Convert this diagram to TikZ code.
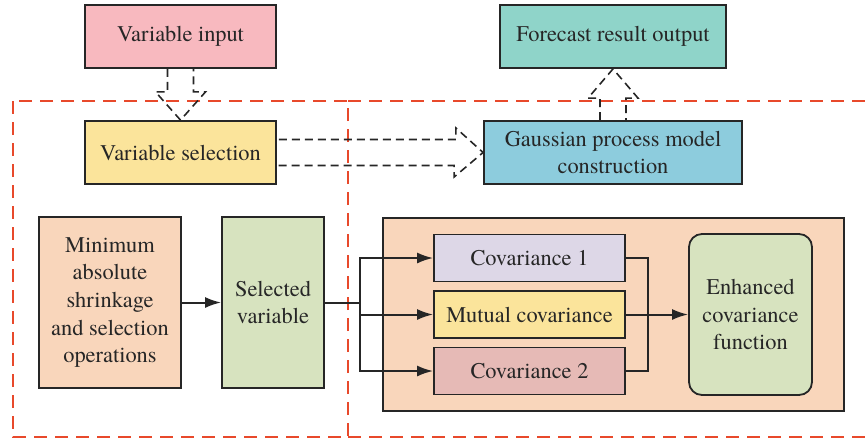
\documentclass[tikz,border=0pt]{standalone}
\usepackage{fontspec}
\setmainfont{texgyretermes}[Extension=.otf,UprightFont=*-regular,BoldFont=*-bold,ItalicFont=*-italic,BoldItalicFont=*-bolditalic]
\usetikzlibrary{arrows.meta,calc}

\definecolor{inputpink}{HTML}{F8B9BF}
\definecolor{selyellow}{HTML}{FBE49B}
\definecolor{outteal}{HTML}{8FD4C9}
\definecolor{gpblue}{HTML}{8DCCDD}
\definecolor{lassoorange}{HTML}{F9D6BB}
\definecolor{selgreen}{HTML}{D7E3BF}
\definecolor{covlilac}{HTML}{DDD7E7}
\definecolor{covrose}{HTML}{E6BAB6}
\definecolor{regionred}{HTML}{E8492B}

\begin{document}
\begin{tikzpicture}[x=0.5pt,y=-0.5pt,
                    node distance=58pt,
                    font=\rmfamily\fontsize{11.2}{13.8}\selectfont,
                    box/.style={rectangle,draw=black!85,line width=0.9pt,
                                text=black!85,align=center,inner sep=0pt},
                    hollow arrow/.style={draw=black!85,line width=0.8pt,
                                dash pattern=on 4pt off 2.5pt},
                    link/.style={draw=black!85,line width=1pt},
                    tip/.style={-{Latex[length=8pt,width=5.5pt]}},
                    region/.style={draw=regionred,line width=1pt,
                                dash pattern=on 6.5pt off 4pt}]

  \useasboundingbox (0,0) rectangle (866,440);

  % dashed regions
  \draw[region] (13,101) rectangle (348,437);
  \draw[region] (348,101) -- (880,101)
                (348,437) -- (880,437);

  % top row
  \node[box,fill=inputpink,minimum width=95.5pt,minimum height=31.5pt] (input) at (180.5,36.5) {Variable input};
  \node[box,fill=selyellow,minimum width=95.5pt,minimum height=31.5pt] (selection) [below of=input] {Variable selection};
  \node[box,fill=outteal,minimum width=113pt,minimum height=31.5pt] (output) at (613,36.5) {Forecast result output};
  \node[box,fill=gpblue,minimum width=129pt,minimum height=31.5pt] (gp) [below of=output] {Gaussian process model\\construction};

  % lower left
  \node[box,fill=lassoorange,minimum width=71pt,minimum height=85.5pt] (lasso) at (110,302.5) {Minimum\\absolute\\shrinkage\\and selection\\operations};
  \node[box,fill=selgreen,minimum width=51pt,minimum height=85.5pt] (selected) at (273,302.5) {Selected\\variable};

  % kernel block
  \node[box,fill=lassoorange,minimum width=230.5pt,minimum height=96.5pt] (kernel) at (613.5,314.5) {};
  \node[box,fill=covlilac,minimum width=95.5pt,minimum height=23.5pt] (cov1) at (529.5,258) {Covariance 1};
  \node[box,fill=selyellow,minimum width=95.5pt,minimum height=23.5pt] (mutual) at (529.5,314.5) {Mutual covariance};
  \node[box,fill=covrose,minimum width=95.5pt,minimum height=23.5pt] (cov2) at (529.5,371) {Covariance 2};
  \node[box,fill=selgreen,rounded corners=6.5pt,minimum width=61.5pt,minimum height=80.5pt] (enhanced) at (750.5,314.5) {Enhanced\\covariance\\function};

  \coordinate (split) at (360,302.5);
  \coordinate (merge) at (648,314.5);

  % hollow arrows
  \draw[hollow arrow] ($(input.south)+(-13,0)$) -- ++(0,23) -- ++(-12,0) -- (selection.north)
    -- ($(input.south)+(25,23)$) -- ++(-12,0) -- ++(0,-23);
  \draw[hollow arrow] ($(selection.east)+(2,-13)$) -- ++(177,0) -- ++(0,-11.5) -- (gp.west)
    -- ($(gp.west)+(-29,24.5)$) -- ++(0,-11.5) -- ++(-177,0);
  \draw[hollow arrow] ($(gp.north)+(-13,0)$) -- ++(0,-22) -- ++(-12,0) -- (output.south)
    -- ($(gp.north)+(25,-22)$) -- ++(-12,0) -- ++(0,22);

  % links
  \draw[link,tip] (lasso) -- (selected);
  \draw[link] (selected.east) -- (split);
  \draw[link,tip] (split) |- (cov1);
  \draw[link,tip] (split) |- (mutual);
  \draw[link,tip] (split) |- (cov2);
  \draw[link] (cov1) -| (merge);
  \draw[link] (cov2) -| (merge);
  \draw[link,tip] (mutual) -- (enhanced);
\end{tikzpicture}
\end{document}
